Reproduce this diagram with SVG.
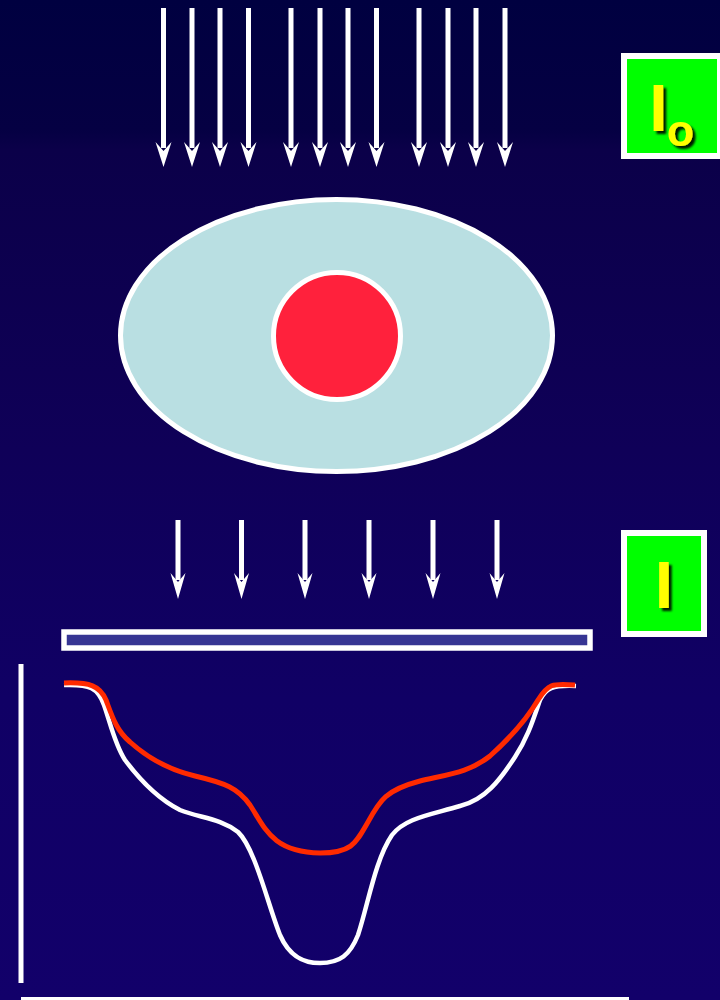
<svg xmlns="http://www.w3.org/2000/svg" width="720" height="1000" viewBox="0 0 720 1000">
  <defs>
    <linearGradient id="bg" x1="0" y1="0" x2="0" y2="1">
      <stop offset="0" stop-color="#000040"/>
      <stop offset="0.13" stop-color="#050043"/>
      <stop offset="0.15" stop-color="#0b0049"/>
      <stop offset="0.45" stop-color="#0f0058"/>
      <stop offset="0.7" stop-color="#100065"/>
      <stop offset="1" stop-color="#12006a"/>
    </linearGradient>
    <filter id="shadow" x="-50%" y="-50%" width="200%" height="200%">
      <feDropShadow dx="3" dy="3" stdDeviation="1.2" flood-color="#000000" flood-opacity="0.9"/>
    </filter>
    <g id="arrowTop">
      <rect x="-2.5" y="8" width="5" height="140" fill="#ffffff"/>
      <path d="M0,167 L-8,142 L0,151 L8,142 Z" fill="#ffffff"/>
    </g>
    <g id="arrowLow">
      <rect x="-2.5" y="520" width="5" height="60" fill="#ffffff"/>
      <path d="M0,599 L-7.5,573 L0,582 L7.5,573 Z" fill="#ffffff"/>
    </g>
  </defs>
  <style>
    .box { fill: #00ff00; stroke: #ffffff; stroke-width: 6; }
    .lbl { font-family: "Liberation Sans", Arial, sans-serif; font-weight: bold; fill: #ffff00; filter: url(#shadow); text-anchor: middle; }
  </style>

  <rect x="0" y="0" width="720" height="1000" fill="url(#bg)"/>

  <g id="incident-rays">
    <use href="#arrowTop" x="163.5"/>
    <use href="#arrowTop" x="192"/>
    <use href="#arrowTop" x="220"/>
    <use href="#arrowTop" x="248.5"/>
    <use href="#arrowTop" x="291"/>
    <use href="#arrowTop" x="320"/>
    <use href="#arrowTop" x="348"/>
    <use href="#arrowTop" x="376.5"/>
    <use href="#arrowTop" x="419"/>
    <use href="#arrowTop" x="448"/>
    <use href="#arrowTop" x="476"/>
    <use href="#arrowTop" x="505"/>
  </g>

  <g id="label-Io">
    <rect class="box" x="624" y="56" width="96" height="100"/>
    <text class="lbl" x="658.5" y="131" font-size="66">I</text>
    <text class="lbl" x="680.5" y="146" font-size="45">o</text>
  </g>

  <g id="body">
    <ellipse cx="336.5" cy="335.5" rx="216" ry="136" fill="#b9dfe2" stroke="#ffffff" stroke-width="5"/>
  </g>
  <g id="lesion">
    <circle cx="337" cy="336" r="63.5" fill="#ff213c" stroke="#ffffff" stroke-width="5"/>
  </g>

  <g id="transmitted-rays">
    <use href="#arrowLow" x="178"/>
    <use href="#arrowLow" x="241.5"/>
    <use href="#arrowLow" x="305"/>
    <use href="#arrowLow" x="369"/>
    <use href="#arrowLow" x="433"/>
    <use href="#arrowLow" x="497"/>
  </g>

  <g id="label-I">
    <rect class="box" x="624" y="533" width="80" height="101"/>
    <text class="lbl" x="664" y="608" font-size="66">I</text>
  </g>

  <g id="detector">
    <rect x="64" y="632" width="526" height="16" fill="#363593" stroke="#ffffff" stroke-width="5.5"/>
  </g>

  <g id="axes">
    <rect x="18.5" y="664" width="5" height="319" fill="#ffffff"/>
    <rect x="21" y="997" width="608" height="5" fill="#ffffff"/>
  </g>

  <g id="profiles" fill="none" stroke-linecap="butt" stroke-linejoin="round">
    <path d="M64,685 C90,684 98,688 104,705 C110,722 115,745 125,760 C140,780 160,800 180,810 C200,818 220,818 238,832 C255,848 268,905 280,935 C290,958 305,963 320,963 C340,963 350,955 358,935 C368,905 375,860 392,835 C405,818 430,815 460,806 C485,800 500,780 515,757 C528,737 533,720 540,700 C546,688 552,685 576,686" stroke="#ffffff" stroke-width="4.5"/>
    <path d="M64,683 C90,682 100,686 106,700 C112,716 116,730 130,742 C150,760 170,770 195,776 C225,783 238,788 250,805 C265,828 272,852 320,853 C352,853 356,843 368,822 C380,800 386,790 420,781 C450,774 470,772 490,756 C510,738 525,722 538,700 C548,684 552,683 575,685" stroke="#ff2a00" stroke-width="5"/>
  </g>
</svg>
